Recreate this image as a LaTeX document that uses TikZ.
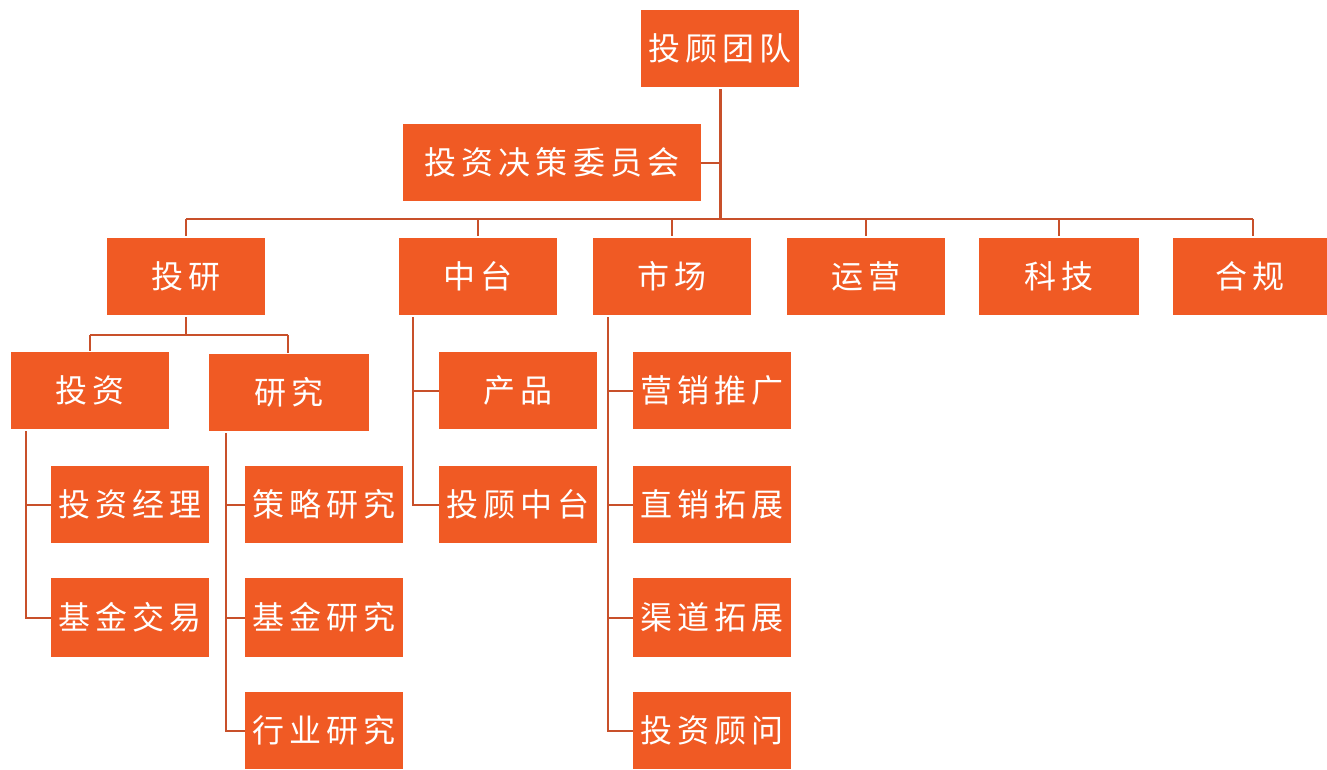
\documentclass[tikz,border=0pt]{standalone}
\usepackage{fontspec}
\newfontfamily\cjk{Noto Sans CJK SC}[LetterSpace=16]
\definecolor{boxfill}{HTML}{F05A24}
\definecolor{linec}{HTML}{C8502A}
\tikzset{
  orgbox/.style={rectangle, fill=boxfill, draw=none, text=white, inner sep=0pt,
    font=\cjk\fontsize{32}{36}\selectfont},
  conn/.style={draw=linec, line width=2pt},
  trunk/.style={draw=linec, line width=3pt},
}
\newcommand{\obox}[6]{%
  \pgfmathsetmacro{\cxx}{(#2+#4)/2}\pgfmathsetmacro{\cyy}{(#3+#5)/2}%
  \pgfmathsetmacro{\ww}{#4-#2}\pgfmathsetmacro{\hh}{#5-#3}%
  \node[orgbox, minimum width=\ww pt, minimum height=\hh pt] (#1) at (\cxx,\cyy) {#6};}
\begin{document}
\begin{tikzpicture}[x=1pt,y=-1pt]
\useasboundingbox (0,0) rectangle (1327,769);
% level 0/1
\obox{root}{641}{10}{799}{87}{投顾团队}
\obox{cmte}{403}{124}{701}{201}{投资决策委员会}
% level 2
\obox{ty}{107}{238}{265}{315}{投研}
\obox{zt}{399}{238}{557}{315}{中台}
\obox{sc}{593}{238}{751}{315}{市场}
\obox{yy}{787}{238}{945}{315}{运营}
\obox{kj}{979}{238}{1139}{315}{科技}
\obox{hg}{1173}{238}{1327}{315}{合规}
% under 投研
\obox{tz}{11}{352}{169}{429}{投资}
\obox{yj}{209}{354}{369}{431}{研究}
\obox{tzjl}{51}{466}{209}{543}{投资经理}
\obox{jjjy}{51}{578}{209}{657}{基金交易}
\obox{clyj}{245}{466}{403}{543}{策略研究}
\obox{jjyj}{245}{578}{403}{657}{基金研究}
\obox{hyyj}{245}{692}{403}{769}{行业研究}
% under 中台
\obox{cp}{439}{352}{597}{429}{产品}
\obox{tgzt}{439}{466}{597}{543}{投顾中台}
% under 市场
\obox{yxtg}{633}{352}{791}{429}{营销推广}
\obox{zxtz}{633}{466}{791}{543}{直销拓展}
\obox{qdtz}{633}{578}{791}{657}{渠道拓展}
\obox{tzgw}{633}{692}{791}{769}{投资顾问}
% connectors
\coordinate (busL) at (186,219);
\coordinate (busR) at (1253,219);
\draw[trunk] ([yshift=-2pt]root.south) -- (root.south |- busL);
\draw[conn] (busL) -- (busR);
\draw[conn] (cmte.east) -- (cmte.east -| root.south);
\foreach \n/\xx in {ty/186,zt/478,sc/672,yy/866,kj/1059,hg/1253}{
  \draw[conn] (\xx,219) -- (\xx,236);
}
\coordinate (split) at (186,335);
\draw[conn] ([yshift=-2pt]ty.south) -- (split);
\draw[conn] (90,335) -- (288,335);
\draw[conn] (90,335) -- ([yshift=1pt]tz.north -| 90,0);
\draw[conn] (288,335) -- ([yshift=1pt]yj.north -| 288,0);
\draw[conn] ([xshift=15pt,yshift=-2pt]tz.south west) |- (tzjl.west);
\draw[conn] ([xshift=15pt,yshift=-2pt]tz.south west) |- (jjjy.west);
\draw[conn] ([xshift=17pt,yshift=-2pt]yj.south west) |- (clyj.west);
\draw[conn] ([xshift=17pt,yshift=-2pt]yj.south west) |- (jjyj.west);
\draw[conn] ([xshift=17pt,yshift=-2pt]yj.south west) |- (hyyj.west);
\draw[conn] ([xshift=14pt,yshift=-2pt]zt.south west) |- (cp.west);
\draw[conn] ([xshift=14pt,yshift=-2pt]zt.south west) |- (tgzt.west);
\draw[conn] ([xshift=15pt,yshift=-2pt]sc.south west) |- (yxtg.west);
\draw[conn] ([xshift=15pt,yshift=-2pt]sc.south west) |- (zxtz.west);
\draw[conn] ([xshift=15pt,yshift=-2pt]sc.south west) |- (qdtz.west);
\draw[conn] ([xshift=15pt,yshift=-2pt]sc.south west) |- (tzgw.west);
\end{tikzpicture}
\end{document}
